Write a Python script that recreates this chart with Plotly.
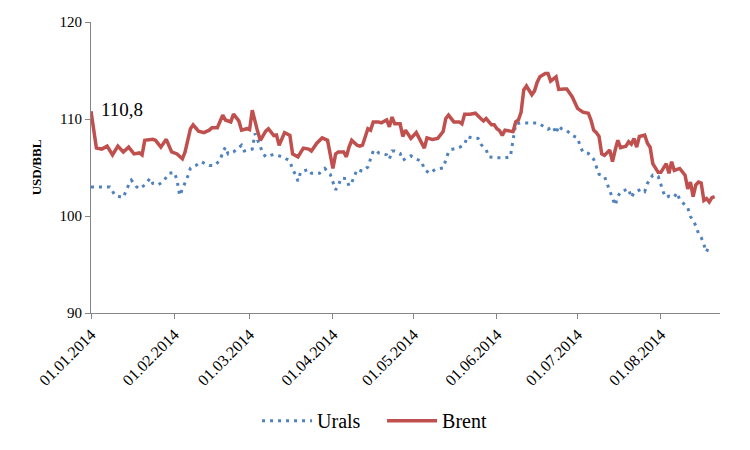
import plotly.graph_objects as go

brent_dates = [
    "2014-01-01", "2014-01-03", "2014-01-05", "2014-01-07", "2014-01-09", "2014-01-11", "2014-01-13",
    "2014-01-15", "2014-01-17", "2014-01-19", "2014-01-20", "2014-01-21", "2014-01-24", "2014-01-25",
    "2014-01-27", "2014-01-29", "2014-01-31", "2014-02-02", "2014-02-04", "2014-02-05", "2014-02-07",
    "2014-02-08", "2014-02-10", "2014-02-12", "2014-02-14", "2014-02-15", "2014-02-17", "2014-02-19",
    "2014-02-20", "2014-02-22", "2014-02-23", "2014-02-25", "2014-02-26", "2014-02-28", "2014-03-01",
    "2014-03-02", "2014-03-04", "2014-03-05", "2014-03-07", "2014-03-08", "2014-03-10", "2014-03-11",
    "2014-03-12", "2014-03-14", "2014-03-16", "2014-03-17", "2014-03-19", "2014-03-21", "2014-03-23",
    "2014-03-24", "2014-03-26", "2014-03-28", "2014-03-30", "2014-03-31", "2014-04-01", "2014-04-02",
    "2014-04-03", "2014-04-05", "2014-04-06", "2014-04-07", "2014-04-08", "2014-04-10", "2014-04-11",
    "2014-04-12", "2014-04-14", "2014-04-15", "2014-04-16", "2014-04-18", "2014-04-19", "2014-04-21",
    "2014-04-22", "2014-04-23", "2014-04-24", "2014-04-26", "2014-04-27", "2014-04-28", "2014-04-30",
    "2014-05-02", "2014-05-04", "2014-05-05", "2014-05-06", "2014-05-08", "2014-05-10", "2014-05-12",
    "2014-05-13", "2014-05-14", "2014-05-16", "2014-05-18", "2014-05-19", "2014-05-20", "2014-05-22",
    "2014-05-24", "2014-05-26", "2014-05-27", "2014-05-28", "2014-05-30", "2014-05-31", "2014-06-01",
    "2014-06-02", "2014-06-03", "2014-06-04", "2014-06-06", "2014-06-07", "2014-06-08", "2014-06-09",
    "2014-06-10", "2014-06-11", "2014-06-12", "2014-06-14", "2014-06-15", "2014-06-16", "2014-06-17",
    "2014-06-19", "2014-06-20", "2014-06-21", "2014-06-23", "2014-06-24", "2014-06-26", "2014-06-27",
    "2014-06-29", "2014-07-01", "2014-07-03", "2014-07-05", "2014-07-06", "2014-07-07", "2014-07-08",
    "2014-07-09", "2014-07-10", "2014-07-11", "2014-07-13", "2014-07-14", "2014-07-15", "2014-07-16",
    "2014-07-17", "2014-07-19", "2014-07-20", "2014-07-21", "2014-07-22", "2014-07-23", "2014-07-24",
    "2014-07-26", "2014-07-27", "2014-07-28", "2014-07-29", "2014-07-31", "2014-08-01", "2014-08-02",
    "2014-08-03", "2014-08-04", "2014-08-05", "2014-08-06", "2014-08-08", "2014-08-10", "2014-08-11",
    "2014-08-12", "2014-08-13", "2014-08-14", "2014-08-15", "2014-08-16", "2014-08-17", "2014-08-18",
    "2014-08-19", "2014-08-20", "2014-08-21",
]
brent_values = [
    110.8, 107.0, 106.9, 107.2, 106.3, 107.2, 106.6,
    107.1, 106.4, 106.5, 106.3, 107.8, 107.9, 107.8,
    107.1, 107.9, 106.6, 106.4, 105.9, 106.6, 109.0,
    109.4, 108.75, 108.6, 108.85, 109.1, 109.1, 110.4,
    109.9, 109.7, 110.5, 109.8, 108.85, 109.0, 108.9,
    110.9, 108.7, 107.8, 108.75, 109.0, 108.3, 108.35,
    107.3, 108.6, 108.3, 106.4, 106.1, 107.0, 106.9,
    106.7, 107.5, 108.05, 107.8, 106.1, 104.9, 106.4,
    106.6, 106.6, 106.1, 107.1, 107.8, 107.3, 107.2,
    107.3, 109.0, 108.85, 109.7, 109.7, 109.6, 109.9,
    109.2, 110.2, 109.5, 109.5, 108.2, 108.85, 108.0,
    108.6, 107.65, 107.0, 108.05, 107.9, 108.0, 108.7,
    110.05, 110.4, 109.7, 109.7, 109.5, 110.5, 110.5,
    110.6, 110.05, 109.8, 110.05, 109.4, 109.4, 109.0,
    108.8, 108.3, 108.85, 108.7, 108.7, 109.7, 109.9,
    110.7, 113.0, 113.4, 112.5, 112.9, 113.8, 114.35,
    114.7, 114.7, 113.9, 114.35, 113.05, 113.1, 113.1,
    112.3, 111.1, 110.7, 110.6, 109.9, 108.85, 108.6,
    108.2, 106.4, 106.25, 106.8, 105.6, 106.8, 107.8,
    107.05, 107.2, 107.65, 107.4, 108.0, 107.1, 108.2,
    108.35, 107.5, 107.1, 105.4, 104.5, 104.5, 104.9,
    105.4, 104.4, 105.6, 104.7, 104.9, 104.2, 102.8,
    103.5, 102.0, 103.2, 103.5, 103.4, 101.6, 101.8,
    101.45, 101.9, 102.0,
]

urals_dates = [
    "2014-01-01", "2014-01-08", "2014-01-10", "2014-01-13", "2014-01-15", "2014-01-16", "2014-01-18",
    "2014-01-19", "2014-01-21", "2014-01-23", "2014-01-24", "2014-01-26", "2014-01-28", "2014-01-30",
    "2014-02-01", "2014-02-02", "2014-02-03", "2014-02-04", "2014-02-05", "2014-02-06", "2014-02-07",
    "2014-02-09", "2014-02-11", "2014-02-14", "2014-02-16", "2014-02-18", "2014-02-19", "2014-02-20",
    "2014-02-21", "2014-02-23", "2014-02-25", "2014-02-26", "2014-02-27", "2014-03-02", "2014-03-03",
    "2014-03-05", "2014-03-06", "2014-03-07", "2014-03-10", "2014-03-12", "2014-03-14", "2014-03-16",
    "2014-03-17", "2014-03-18", "2014-03-19", "2014-03-20", "2014-03-23", "2014-03-24", "2014-03-27",
    "2014-03-29", "2014-03-31", "2014-04-01", "2014-04-02", "2014-04-03", "2014-04-04", "2014-04-06",
    "2014-04-07", "2014-04-08", "2014-04-09", "2014-04-10", "2014-04-12", "2014-04-14", "2014-04-15",
    "2014-04-16", "2014-04-17", "2014-04-18", "2014-04-21", "2014-04-22", "2014-04-23", "2014-04-24",
    "2014-04-26", "2014-04-27", "2014-04-30", "2014-05-02", "2014-05-04", "2014-05-05", "2014-05-07",
    "2014-05-09", "2014-05-12", "2014-05-13", "2014-05-14", "2014-05-15", "2014-05-18", "2014-05-20",
    "2014-05-21", "2014-05-22", "2014-05-25", "2014-05-26", "2014-05-28", "2014-05-29", "2014-06-01",
    "2014-06-04", "2014-06-06", "2014-06-07", "2014-06-08", "2014-06-10", "2014-06-13", "2014-06-16",
    "2014-06-18", "2014-06-20", "2014-06-22", "2014-06-23", "2014-06-24", "2014-06-25", "2014-06-27",
    "2014-06-29", "2014-07-01", "2014-07-02", "2014-07-03", "2014-07-05", "2014-07-07", "2014-07-08",
    "2014-07-09", "2014-07-11", "2014-07-12", "2014-07-13", "2014-07-14", "2014-07-15", "2014-07-16",
    "2014-07-17", "2014-07-20", "2014-07-21", "2014-07-22", "2014-07-25", "2014-07-26", "2014-07-27",
    "2014-07-28", "2014-07-29", "2014-07-31", "2014-08-01", "2014-08-02", "2014-08-03", "2014-08-04",
    "2014-08-06", "2014-08-07", "2014-08-08", "2014-08-10", "2014-08-11", "2014-08-12", "2014-08-13",
    "2014-08-14", "2014-08-15", "2014-08-16", "2014-08-17", "2014-08-18", "2014-08-19",
]
urals_values = [
    103.0, 103.0, 102.1, 101.9, 103.2, 103.7, 103.0,
    102.8, 103.2, 103.9, 103.35, 103.2, 103.6, 104.4,
    104.5, 103.7, 102.1, 102.75, 103.35, 104.1, 104.95,
    105.2, 105.6, 105.2, 105.2, 105.75, 106.55, 107.1,
    106.4, 106.6, 107.05, 107.3, 106.7, 106.9, 108.5,
    107.2, 106.45, 106.1, 106.35, 106.2, 106.0, 105.65,
    104.8, 104.3, 103.6, 104.55, 104.8, 104.4, 104.4,
    104.9, 104.3, 103.5, 102.7, 103.1, 103.9, 103.85,
    103.1, 103.45, 104.2, 104.8, 104.6, 105.05, 105.9,
    106.7, 106.8, 106.5, 106.3, 105.85, 106.7, 106.7,
    106.45, 105.75, 106.2, 105.85, 105.65, 104.8, 104.4,
    104.8, 104.95, 105.75, 106.6, 106.85, 107.05, 107.4,
    108.2, 108.1, 108.0, 107.4, 106.85, 106.1, 106.0,
    106.0, 106.1, 107.8, 109.5, 109.6, 109.6, 109.6,
    109.3, 108.95, 109.2, 108.5, 109.3, 109.0, 108.8,
    108.3, 108.05, 107.2, 106.6, 106.45, 105.85, 105.05,
    104.3, 104.1, 103.3, 102.6, 101.9, 101.1, 102.0,
    102.5, 102.8, 101.9, 102.4, 102.8, 102.55, 103.35,
    103.85, 104.2, 104.1, 103.2, 102.4, 101.9, 102.05,
    101.95, 102.4, 101.7, 101.2, 100.85, 99.95, 99.55,
    99.0, 98.2, 97.8, 97.0, 96.3, 97.0,
]

tick_dates = ["2014-01-01", "2014-02-01", "2014-03-01", "2014-04-01",
              "2014-05-01", "2014-06-01", "2014-07-01", "2014-08-01"]
tick_labels = ["01.01.2014", "01.02.2014", "01.03.2014", "01.04.2014",
               "01.05.2014", "01.06.2014", "01.07.2014", "01.08.2014"]

FONT = "Liberation Serif"

fig = go.Figure()
fig.add_trace(go.Scatter(
    x=urals_dates, y=urals_values, mode="lines", name="Urals",
    line=dict(color="#4F81BD", width=3, dash="3px,5px"),
))
fig.add_trace(go.Scatter(
    x=brent_dates, y=brent_values, mode="lines", name="Brent",
    line=dict(color="#C0504D", width=3.5),
))

fig.add_annotation(
    x=brent_dates[0], y=brent_values[0], text="110,8", showarrow=False,
    xanchor="left", yanchor="middle", xshift=8, yshift=2,
    font=dict(family=FONT, size=19, color="black"),
)

fig.update_layout(
    width=750, height=450,
    margin=dict(l=83, r=38, t=14, b=145, autoexpand=False),
    plot_bgcolor="white", paper_bgcolor="white",
    font=dict(family=FONT, color="black"),
    showlegend=True,
    legend=dict(orientation="h", x=0.264, xanchor="left", y=-0.37, yanchor="middle",
                font=dict(family=FONT, size=20), itemwidth=50,
                entrywidth=60, entrywidthmode="pixels"),
)
fig.update_xaxes(
    type="date", range=["2014-01-01", "2014-08-23"], automargin=False,
    tickmode="array", tickvals=tick_dates, ticktext=tick_labels,
    tickangle=-45, tickfont=dict(family=FONT, size=16),
    showline=True, linecolor="#868686", linewidth=1,
    ticks="outside", ticklen=5, tickcolor="#868686",
    showgrid=False, zeroline=False,
)
fig.update_yaxes(
    range=[90, 120], dtick=10, tick0=90, automargin=False,
    tickfont=dict(family=FONT, size=15),
    showline=True, linecolor="#868686", linewidth=1,
    ticks="outside", ticklen=5, tickcolor="#868686",
    showgrid=False, zeroline=False,
    title=dict(text="<b>USD/BBL</b>", font=dict(family=FONT, size=13), standoff=14),
)

fig.write_html("out.html")
